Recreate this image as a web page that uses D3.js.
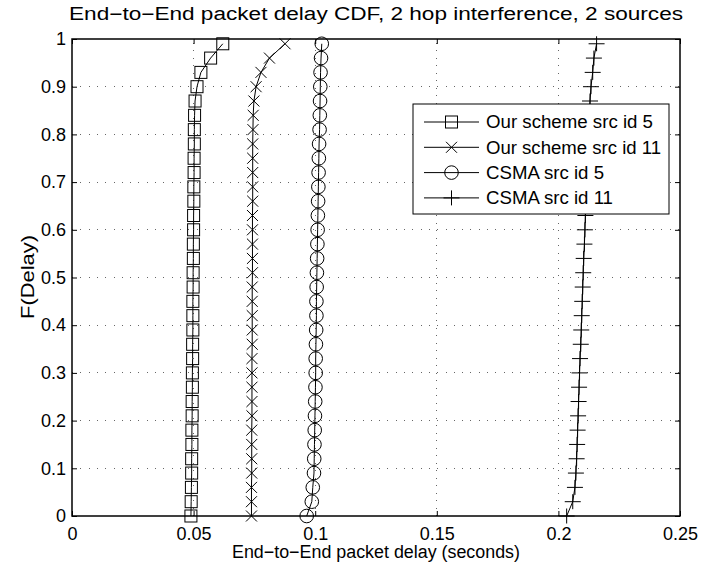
<!DOCTYPE html>
<html><head><meta charset="utf-8">
<script src="https://cdn.jsdelivr.net/npm/d3@7"></script>
<style>body{margin:0;background:#fff}svg{display:block}text{font-family:"Liberation Sans",Arial,sans-serif;fill:#000}</style>
</head><body><svg id="c" width="701" height="576"></svg>
<script>
const fValues = [0,0.03,0.06,0.09,0.12,0.15,0.18,0.21,0.24,0.27,0.30,0.33,0.36,0.39,0.42,0.45,0.48,0.51,0.54,0.57,0.60,0.63,0.66,0.69,0.72,0.75,0.78,0.81,0.84,0.87,0.90,0.93,0.96,0.99];
const ourSrc5 = [0.0489,0.0490,0.0491,0.0492,0.0492,0.0493,0.0493,0.0494,0.0494,0.0495,0.0495,0.0496,0.0496,0.0497,0.0497,0.0497,0.0498,0.0498,0.0499,0.0499,0.0500,0.0500,0.0501,0.0501,0.0502,0.0502,0.0503,0.0503,0.0504,0.0506,0.0514,0.0530,0.0570,0.0620];
const ourSrc11 = [0.0738,0.0738,0.0738,0.0739,0.0739,0.0739,0.0739,0.0740,0.0740,0.0740,0.0740,0.0740,0.0741,0.0741,0.0741,0.0741,0.0741,0.0742,0.0742,0.0742,0.0742,0.0742,0.0743,0.0743,0.0743,0.0743,0.0743,0.0744,0.0745,0.0748,0.0757,0.0777,0.0812,0.0876];
const csmaSrc5 = [0.0965,0.0986,0.0990,0.0995,0.0996,0.0997,0.0998,0.0999,0.1000,0.1001,0.1002,0.1002,0.1003,0.1004,0.1005,0.1005,0.1006,0.1007,0.1008,0.1009,0.1010,0.1011,0.1012,0.1013,0.1014,0.1015,0.1016,0.1018,0.1019,0.1020,0.1021,0.1022,0.1024,0.1027];
const csmaSrc11 = [0.2034,0.2059,0.2068,0.2072,0.2075,0.2077,0.2079,0.2081,0.2083,0.2085,0.2087,0.2089,0.2092,0.2094,0.2096,0.2098,0.2100,0.2102,0.2104,0.2107,0.2109,0.2111,0.2113,0.2116,0.2118,0.2120,0.2123,0.2125,0.2127,0.2130,0.2134,0.2141,0.2146,0.2157];
const seriesNames = ["Our scheme src id 5","Our scheme src id 11","CSMA src id 5","CSMA src id 11"];
const markers = ["square","x","circle","plus"];
const xTicks = [0,0.05,0.1,0.15,0.2,0.25];
const xTickLabels = ["0","0.05","0.1","0.15","0.2","0.25"];
const yTicks = [0,0.1,0.2,0.3,0.4,0.5,0.6,0.7,0.8,0.9,1];
const yTickLabels = ["0","0.1","0.2","0.3","0.4","0.5","0.6","0.7","0.8","0.9","1"];
const titleText = "End\u2212to\u2212End packet delay CDF, 2 hop interference, 2 sources";
const xLabel = "End\u2212to\u2212End packet delay (seconds)";
const yLabel = "F(Delay)";

const svg = d3.select("#c");
const L=72,R=680,T=39,B=516;
const FS=18;
const x = d3.scaleLinear().domain([0,0.25]).range([L,R]);
const y = d3.scaleLinear().domain([0,1]).range([B,T]);

// grid
const g = svg.append("g");
xTicks.slice(1,-1).forEach(v=>g.append("line").attr("x1",x(v)).attr("x2",x(v)).attr("y1",B).attr("y2",T)
  .attr("stroke","#666").attr("stroke-width",1).attr("stroke-dasharray","1,6.5").attr("shape-rendering","crispEdges"));
yTicks.slice(1,-1).forEach(v=>g.append("line").attr("x1",L).attr("x2",R).attr("y1",y(v)).attr("y2",y(v))
  .attr("stroke","#666").attr("stroke-width",1).attr("stroke-dasharray","1,7.3").attr("shape-rendering","crispEdges"));

// axes
const tl=5;
svg.append("g").attr("transform",`translate(0,${B})`).call(d3.axisBottom(x).tickValues(xTicks).tickFormat((d,i)=>xTickLabels[i]).tickSize(-tl).tickPadding(11))
  .call(a=>{a.select(".domain").remove();a.selectAll("text").attr("font-size",FS).attr("font-family","Liberation Sans, Arial");});
svg.append("g").attr("transform",`translate(0,${T})`).call(d3.axisTop(x).tickValues(xTicks).tickFormat("").tickSize(-tl))
  .call(a=>a.select(".domain").remove());
svg.append("g").attr("transform",`translate(${L},0)`).call(d3.axisLeft(y).tickValues(yTicks).tickFormat((d,i)=>yTickLabels[i]).tickSize(-tl).tickPadding(6))
  .call(a=>{a.select(".domain").remove();a.selectAll("text").attr("font-size",FS).attr("font-family","Liberation Sans, Arial");});
svg.append("g").attr("transform",`translate(${R},0)`).call(d3.axisRight(y).tickValues(yTicks).tickFormat("").tickSize(-tl))
  .call(a=>a.select(".domain").remove());
svg.append("rect").attr("x",L).attr("y",T).attr("width",R-L).attr("height",B-T).attr("fill","none").attr("stroke","#000").attr("stroke-width",1.5);

// series
const allSeries=[ourSrc5,ourSrc11,csmaSrc5,csmaSrc11];
function drawMarker(sel,type,cx,cy){
  const s=6;
  if(type==="square") sel.append("rect").attr("x",cx-s).attr("y",cy-s).attr("width",2*s).attr("height",2*s).attr("fill","none").attr("stroke","#000").attr("stroke-width",1);
  else if(type==="circle") sel.append("circle").attr("cx",cx).attr("cy",cy).attr("r",6.8).attr("fill","none").attr("stroke","#000").attr("stroke-width",1);
  else if(type==="x") sel.append("path").attr("d",`M${cx-5.5},${cy-5.5}L${cx+5.5},${cy+5.5}M${cx-5.5},${cy+5.5}L${cx+5.5},${cy-5.5}`).attr("stroke","#000").attr("stroke-width",1);
  else sel.append("path").attr("d",`M${cx-8},${cy}L${cx+8},${cy}M${cx},${cy-7.5}L${cx},${cy+7.5}`).attr("stroke","#000").attr("stroke-width",1);
}
const line=d3.line().x(d=>x(d[0])).y(d=>y(d[1]));
allSeries.forEach((vals,si)=>{
  const pts=vals.map((v,i)=>[v,fValues[i]]);
  const sg=svg.append("g");
  sg.append("path").attr("d",line(pts)).attr("fill","none").attr("stroke","#000").attr("stroke-width",1);
  pts.forEach(p=>drawMarker(sg,markers[si],x(p[0]),y(p[1])));
});

// legend
const legendWidths=[167,175,118,127];
const lg=svg.append("g");
lg.append("rect").attr("x",413).attr("y",104).attr("width",256).attr("height",110).attr("fill","#fff").attr("stroke","#000").attr("stroke-width",1);
seriesNames.forEach((n,i)=>{
  const yy=122+i*25.3;
  lg.append("line").attr("x1",424).attr("x2",479).attr("y1",yy).attr("y2",yy).attr("stroke","#000").attr("stroke-width",1);
  drawMarker(lg,markers[i],451.5,yy);
  lg.append("text").attr("x",486).attr("y",yy).attr("dy","0.36em").attr("font-size",FS)
    .attr("textLength",legendWidths[i]).attr("lengthAdjust","spacingAndGlyphs").text(n);
});

// titles
svg.append("text").attr("x",376).attr("y",20).attr("text-anchor","middle").attr("font-size",FS)
  .attr("textLength",614).attr("lengthAdjust","spacingAndGlyphs").text(titleText);
svg.append("text").attr("x",376).attr("y",558).attr("text-anchor","middle").attr("font-size",FS)
  .attr("textLength",288).attr("lengthAdjust","spacingAndGlyphs").text(xLabel);
svg.append("text").attr("transform","translate(34,277) rotate(-90)").attr("text-anchor","middle").attr("font-size",FS)
  .attr("textLength",84).attr("lengthAdjust","spacingAndGlyphs").text(yLabel);
</script></body></html>
